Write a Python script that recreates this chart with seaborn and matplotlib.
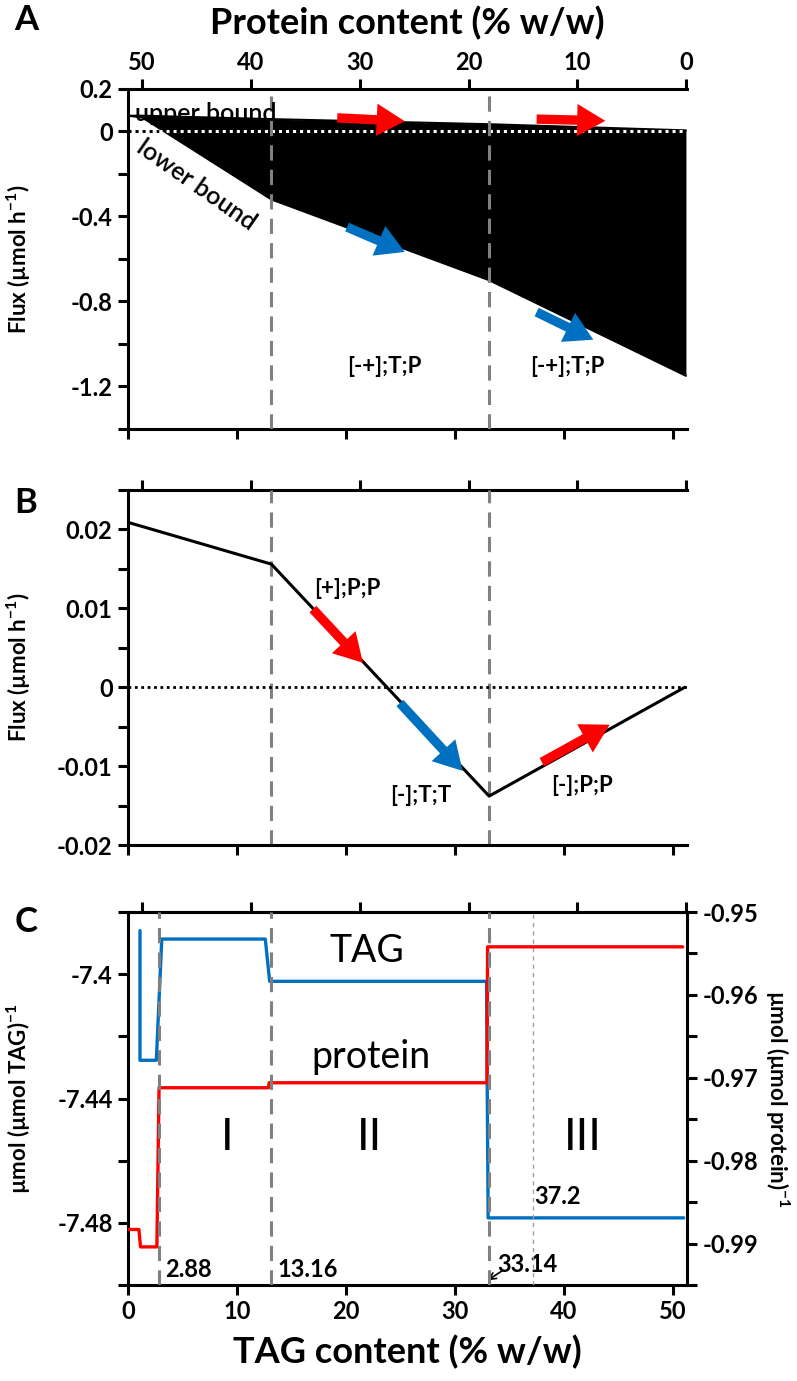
import numpy as np
import pandas as pd
import matplotlib
matplotlib.use("Agg")
import matplotlib.pyplot as plt
import seaborn as sns
from matplotlib.ticker import MultipleLocator

# ---------------- data ----------------
# Panel A: flux bounds vs TAG content (% w/w)
tag_A = [0.0, 1.3, 13.16, 33.14, 51.2]
upper_A = [0.074, 0.074, 0.058, 0.034, 0.005]
lower_A = [0.074, 0.066, -0.32, -0.70, -1.15]

# Panel B: single flux vs TAG content
tag_B = [0.0, 13.16, 33.14, 51.1]
flux_B = [0.0209, 0.0156, -0.0138, 0.0]

# Panel C: shadow prices
tag_C_T = [1.1, 1.1, 2.6, 3.1, 12.6, 13.0, 32.9, 33.05, 51.0]
price_TAG = [-7.386, -7.4277, -7.4277, -7.3887, -7.3887, -7.4023, -7.4023, -7.4784, -7.4784]
tag_C_P = [0.0, 1.0, 1.15, 2.65, 2.85, 12.9, 12.95, 32.95, 33.0, 50.9]
price_prot = [-0.9883, -0.9883, -0.9904, -0.9904, -0.9712, -0.9712, -0.9706, -0.9706, -0.9542, -0.9542]

breaks = [2.88, 13.16, 33.14]
extra_line = 37.2
protein_ticks = [50, 40, 30, 20, 10, 0]
tag_ticks = [0, 10, 20, 30, 40, 50]
PROT_TOTAL = 51.25

RED = "#FF0000"
BLUE = "#0070C0"
GRAY = "#808080"

# ---------------- style ----------------
sns.set_theme(style="white")
plt.rcParams["font.family"] = ["Lato", "DejaVu Sans"]
plt.rcParams["font.weight"] = "bold"
plt.rcParams["axes.labelweight"] = "bold"
plt.rcParams["axes.unicode_minus"] = False
plt.rcParams["mathtext.default"] = "regular"
for key in ["text.color", "axes.labelcolor", "xtick.color", "ytick.color", "axes.edgecolor"]:
    plt.rcParams[key] = "black"

fig = plt.figure(figsize=(7.97, 13.81), dpi=100)
L, W = 0.1606, 0.7014
axA = fig.add_axes([L, 0.6894, W, 0.2462])
axB = fig.add_axes([L, 0.3881, W, 0.2571])
axC = fig.add_axes([L, 0.0695, W, 0.2701])

XLIM = (0, 51.3)
SPW = 2.2
TICKFS = 17
LABFS = 16
TITLEFS = 26


def style_axes(ax, right=False):
    for s in ["left", "bottom", "top"]:
        ax.spines[s].set_linewidth(SPW)
        ax.spines[s].set_color("black")
    ax.spines["right"].set_visible(right)
    if right:
        ax.spines["right"].set_linewidth(SPW)
        ax.spines["right"].set_color("black")
    ax.tick_params(axis="both", which="both", direction="out", length=7, width=2.2,
                   color="black", labelcolor="black", labelsize=TICKFS, pad=4)
    ax.tick_params(axis="y", which="both", left=True)
    ax.tick_params(axis="x", which="both", bottom=True)
    ax.set_xlim(*XLIM)
    ax.set_xticks(tag_ticks)
    ax.grid(False)
    ax.set_facecolor("white")


def prot_axis(ax, labels):
    sec = ax.secondary_xaxis("top", functions=(lambda t: PROT_TOTAL - t, lambda p: PROT_TOTAL - p))
    sec.set_xticks(protein_ticks)
    sec.tick_params(direction="out", length=7, width=2.2, color="black", labelcolor="black",
                    labelsize=TICKFS, pad=4)
    sec.spines["top"].set_linewidth(SPW)
    sec.spines["top"].set_color("black")
    if not labels:
        sec.set_xticklabels([])
    return sec


def arrow(ax, start, end, color):
    ax.annotate("", xy=end, xytext=start,
                arrowprops=dict(arrowstyle="simple,head_length=1.35,head_width=1.55,tail_width=0.45",
                                fc=color, ec=color, lw=0, shrinkA=0, shrinkB=0, mutation_scale=15),
                zorder=6)

# ---------------- Panel A ----------------
dfA = pd.DataFrame({"tag": tag_A, "upper": upper_A, "lower": lower_A})
axA.fill_between(dfA["tag"], dfA["lower"], dfA["upper"], color="black", lw=0, zorder=2)
sns.lineplot(data=dfA, x="tag", y="upper", ax=axA, color="black", lw=1.5, sort=False, estimator=None, zorder=3)
sns.lineplot(data=dfA, x="tag", y="lower", ax=axA, color="black", lw=1.5, sort=False, estimator=None, zorder=3)
axA.plot([0, breaks[0]], [0, 0], color="black", lw=2.2, ls=(0, (1, 1.3)), zorder=4)
axA.plot([breaks[0], tag_A[-1]], [0, 0], color="white", lw=2.2, ls=(0, (1, 1.3)), zorder=4)
for b in breaks[1:]:
    axA.axvline(b, color=GRAY, lw=2.2, ls=(0, (5, 3)), zorder=5)
axA.set_ylim(-1.4, 0.2)
axA.set_yticks([0.2, 0, -0.4, -0.8, -1.2])
axA.set_yticklabels(["0.2", "0", "-0.4", "-0.8", "-1.2"])
axA.yaxis.set_minor_locator(MultipleLocator(0.2))
style_axes(axA)
axA.set_xticklabels([])
axA.spines["top"].set_visible(False)
secA = prot_axis(axA, labels=True)
secA.set_xlabel("Protein content (% w/w)", fontsize=TITLEFS, fontweight="bold", labelpad=12, color="black")
axA.set_xlabel("")
axA.set_ylabel("Flux (µmol h$^{-1}$)", fontsize=LABFS, fontweight="bold")
axA.text(0.6, 0.085, "upper bound", fontsize=18, fontweight="semibold", ha="left", va="center", zorder=7)
axA.text(6.3, -0.25, "lower bound", fontsize=18, fontweight="semibold", ha="center", va="center",
         rotation=-35, zorder=7)
axA.text(23.5, -1.105, "[-+];T;P", fontsize=16, ha="center", va="center")
axA.text(40.3, -1.105, "[-+];T;P", fontsize=16, ha="center", va="center")
arrow(axA, (19.2, 0.064), (25.4, 0.048), RED)
arrow(axA, (37.5, 0.058), (43.8, 0.05), RED)
arrow(axA, (20.1, -0.45), (25.4, -0.567), BLUE)
arrow(axA, (37.5, -0.85), (42.7, -0.98), BLUE)
fig.text(0.018, 1 - 20 / 1381, "A", fontsize=25, ha="left", va="center")

# ---------------- Panel B ----------------
dfB = pd.DataFrame({"tag": tag_B, "flux": flux_B})
sns.lineplot(data=dfB, x="tag", y="flux", ax=axB, color="black", lw=2.2, sort=False, estimator=None, zorder=3)
axB.axhline(0, color="black", lw=2, ls=(0, (1, 1.3)), zorder=2)
for b in breaks[1:]:
    axB.axvline(b, color=GRAY, lw=2.2, ls=(0, (5, 3)), zorder=1)
axB.set_ylim(-0.02, 0.025)
axB.set_yticks([0.02, 0.01, 0, -0.01, -0.02])
axB.set_yticklabels(["0.02", "0.01", "0", "-0.01", "-0.02"])
axB.yaxis.set_minor_locator(MultipleLocator(0.005))
style_axes(axB)
axB.set_xticklabels([])
axB.spines["top"].set_visible(False)
prot_axis(axB, labels=False)
axB.set_xlabel("")
axB.set_ylabel("Flux (µmol h$^{-1}$)", fontsize=LABFS, fontweight="bold")
axB.text(20.1, 0.0125, "[+];P;P", fontsize=16, ha="center", va="center")
axB.text(26.9, -0.01375, "[-];T;T", fontsize=16, ha="center", va="center")
axB.text(41.7, -0.0125, "[-];P;P", fontsize=16, ha="center", va="center")
arrow(axB, (16.97, 0.0099), (21.56, 0.0031), RED)
arrow(axB, (24.95, -0.002), (30.7, -0.0106), BLUE)
arrow(axB, (37.98, -0.0095), (44.2, -0.00475), RED)
fig.text(0.018, 1 - 503 / 1381, "B", fontsize=25, ha="left", va="center")

# ---------------- Panel C ----------------
dfT = pd.DataFrame({"tag": tag_C_T, "price": price_TAG})
dfP = pd.DataFrame({"tag": tag_C_P, "price": price_prot})
sns.lineplot(data=dfT, x="tag", y="price", ax=axC, color=BLUE, lw=2.4, sort=False, estimator=None, zorder=3)
axC.set_ylim(-7.50, -7.38)
axC.set_yticks([-7.4, -7.44, -7.48])
axC.set_yticklabels(["-7.4", "-7.44", "-7.48"])
axC.yaxis.set_minor_locator(MultipleLocator(0.02))
style_axes(axC, right=True)
axC.set_xlabel("TAG content (% w/w)", fontsize=TITLEFS, fontweight="bold", labelpad=8)
axC.set_ylabel("µmol (µmol TAG)$^{-1}$", fontsize=LABFS, fontweight="bold")
prot_axis(axC, labels=False)

axC2 = axC.twinx()
sns.lineplot(data=dfP, x="tag", y="price", ax=axC2, color=RED, lw=2.4, sort=False, estimator=None, zorder=3)
axC2.set_ylim(-0.995, -0.95)
axC2.set_yticks([-0.95, -0.96, -0.97, -0.98, -0.99])
axC2.set_yticklabels(["-0.95", "-0.96", "-0.97", "-0.98", "-0.99"])
axC2.yaxis.set_minor_locator(MultipleLocator(0.005))
axC2.set_xlim(*XLIM)
axC2.tick_params(axis="y", which="both", direction="out", length=7, width=2.2, labelsize=TICKFS,
                 color="black", labelcolor="black", pad=4, right=True)
for s in axC2.spines.values():
    s.set_visible(False)
axC2.grid(False)
axC2.set_xlabel("")
axC2.set_ylabel("µmol (µmol protein)$^{-1}$", fontsize=LABFS, fontweight="bold", rotation=270, labelpad=24)
for b in breaks:
    axC2.axvline(b, color=GRAY, lw=2.2, ls=(0, (5, 3)), zorder=5)
axC2.axvline(extra_line, color="#A0A0A0", lw=1.0, ls=(0, (3, 3)), zorder=1)

axC.text(21.9, -7.3926, "TAG", fontsize=27, fontweight="normal", ha="center", va="center")
axC.text(22.3, -7.4265, "protein", fontsize=27, fontweight="normal", ha="center", va="center")
for txt, xv in [("I", 9.1), ("II", 22.2), ("III", 41.7)]:
    axC.text(xv, -7.4526, txt, fontsize=32, fontweight="normal", ha="center", va="center")
axC.text(3.4, -7.495, "2.88", fontsize=17, ha="left", va="center")
axC.text(13.7, -7.495, "13.16", fontsize=17, ha="left", va="center")
axC.text(33.9, -7.4935, "33.14", fontsize=17, ha="left", va="center")
axC.text(37.3, -7.4716, "37.2", fontsize=17, ha="left", va="center")
axC.annotate("", xy=(33.0, -7.4985), xytext=(34.3, -7.4955),
             arrowprops=dict(arrowstyle="->", color="black", lw=1.2, shrinkA=0, shrinkB=0))
fig.text(0.018, 1 - 922 / 1381, "C", fontsize=25, ha="left", va="center")

# align y labels
axA.yaxis.set_label_coords(-0.17, 0.5)
axB.yaxis.set_label_coords(-0.17, 0.5)
axC.yaxis.set_label_coords(-0.17, 0.5)

fig.savefig("out.png", dpi=100, facecolor="white")
